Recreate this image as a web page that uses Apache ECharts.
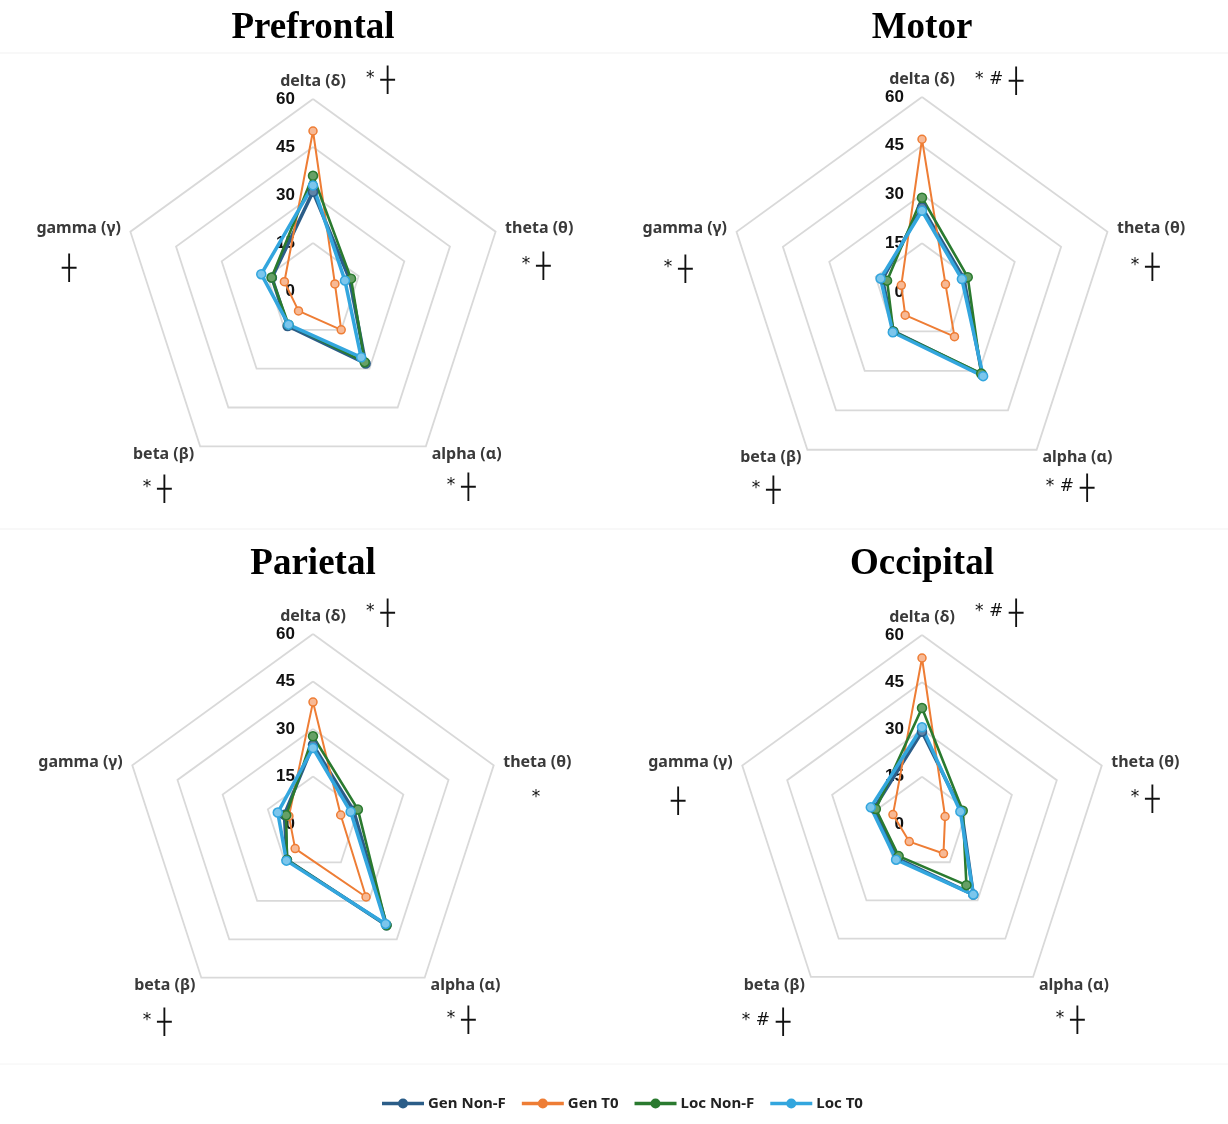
<!DOCTYPE html>
<html>
<head>
<meta charset="utf-8">
<title>EEG band power by region</title>
<script src="https://cdn.jsdelivr.net/npm/echarts@6/dist/echarts.min.js"></script>
<style>
  html, body { margin: 0; padding: 0; background: #ffffff; }
  #chart { width: 1228px; height: 1124px; }
</style>
</head>
<body>
<div id="chart"></div>
<script>
// Frequency bands, listed clockwise from the top axis
const bands = ['delta (δ)', 'theta (θ)', 'alpha (α)', 'beta (β)', 'gamma (γ)'];
const groups = ['Gen Non-F', 'Gen T0', 'Loc Non-F', 'Loc T0'];
const regions = ['Prefrontal', 'Motor', 'Parietal', 'Occipital'];
const tickLabels = [0, 15, 30, 45, 60];

// Values per band: delta, theta, alpha, beta, gamma
const prefrontalGenNonF = [31.0, 12.0, 28.0, 13.5, 13.5];
const prefrontalGenT0   = [50.0,  7.2, 15.0,  7.7,  9.4];
const prefrontalLocNonF = [36.0, 12.5, 27.5, 13.0, 13.6];
const prefrontalLocT0   = [33.0, 10.5, 25.6, 13.0, 17.0];

const motorGenNonF = [26.0, 13.5, 31.5, 15.0, 12.8];
const motorGenT0   = [47.0,  7.6, 17.0,  8.8,  6.7];
const motorLocNonF = [29.0, 14.8, 31.0, 15.0, 11.3];
const motorLocT0   = [25.0, 12.9, 32.0, 15.3, 13.4];

const parietalGenNonF = [25.0, 13.5, 39.5, 14.0,  9.5];
const parietalGenT0   = [38.5,  9.2, 28.5,  9.6,  8.0];
const parietalLocNonF = [27.7, 14.9, 39.5, 14.0,  8.9];
const parietalLocT0   = [24.0, 12.5, 39.0, 14.3, 11.7];

const occipitalGenNonF = [29.3, 13.2, 27.7, 13.5, 16.0];
const occipitalGenT0   = [52.7,  7.7, 11.6,  6.9,  9.7];
const occipitalLocNonF = [36.8, 13.6, 24.0, 12.6, 15.4];
const occipitalLocT0   = [30.7, 12.8, 27.7, 14.0, 17.1];

// Significance marks per band: delta, theta, alpha, beta, gamma
const prefrontalMarks = ['* ┼', '* ┼', '* ┼', '* ┼', '┼'];
const motorMarks      = ['* # ┼', '* ┼', '* # ┼', '* ┼', '* ┼'];
const parietalMarks   = ['* ┼', '*', '* ┼', '* ┼', ''];
const occipitalMarks  = ['* # ┼', '* ┼', '* ┼', '* # ┼', '┼'];

const regionValues = [
  [prefrontalGenNonF, prefrontalGenT0, prefrontalLocNonF, prefrontalLocT0],
  [motorGenNonF, motorGenT0, motorLocNonF, motorLocT0],
  [parietalGenNonF, parietalGenT0, parietalLocNonF, parietalLocT0],
  [occipitalGenNonF, occipitalGenT0, occipitalLocNonF, occipitalLocT0]
];
const regionMarks = [prefrontalMarks, motorMarks, parietalMarks, occipitalMarks];

// Panel geometry
const panels = [
  { cx: 313, cy: 291, r: 192 },
  { cx: 922, cy: 292, r: 195 },
  { cx: 313, cy: 824, r: 190 },
  { cx: 922, cy: 824, r: 189 }
];

const lineColors = ['#2b5d88', '#ee7d35', '#2a7a2f', '#33a6de'];
const fillColors = ['#5f84a8', '#f7b995', '#66a066', '#7cc6ec'];
const lineWidths = [3.5, 2, 2.6, 3.5];
const symbolSizes = [9, 8, 9, 9];

// ECharts lays radar axes counter-clockwise; visit bands in that order
const drawOrder = [0, 4, 3, 2, 1];

const labelFont = 'Noto Sans';

const radars = panels.map(function (p) {
  return {
    center: [p.cx, p.cy],
    radius: p.r,
    startAngle: 90,
    splitNumber: tickLabels.length - 1,
    shape: 'polygon',
    nameGap: 10,
    axisName: { color: '#3a3a3a', fontSize: 16, fontWeight: 'bold', fontFamily: labelFont },
    axisLine: { show: false },
    axisTick: { show: false },
    axisLabel: { show: false },
    splitLine: { lineStyle: { color: '#d9d9d9', width: 1.8 } },
    splitArea: { show: false },
    indicator: drawOrder.map(function (b, k) {
      const ind = { name: bands[b], min: tickLabels[0], max: tickLabels[tickLabels.length - 1] };
      if (k === 0) {
        ind.axisLabel = {
          show: true, color: '#111', fontSize: 17, fontWeight: 'bold',
          fontFamily: 'Liberation Sans', margin: 18
        };
      }
      return ind;
    })
  };
});

const series = regionValues.map(function (vals, ri) {
  return {
    type: 'radar',
    radarIndex: ri,
    symbol: 'circle',
    z: 2,
    data: groups.map(function (g, gi) {
      return {
        name: g,
        value: drawOrder.map(function (b) { return vals[gi][b]; }),
        symbolSize: symbolSizes[gi],
        lineStyle: { color: lineColors[gi], width: lineWidths[gi] },
        itemStyle: { color: fillColors[gi], borderColor: lineColors[gi], borderWidth: 1.5 }
      };
    })
  };
});

// Offsets of each band's mark text from its panel centre
const markOffsets = [
  { dx: 53, dy: -209, align: 'left' },
  { dx: 223, dy: -23, align: 'center' },
  { dx: 148, dy: 198, align: 'center' },
  { dx: -156, dy: 200, align: 'center' },
  { dx: -244, dy: -21, align: 'center' }
];

function richMark(s) {
  const parts = s.split(' ');
  const hasCross = parts[parts.length - 1] === '┼';
  const pre = hasCross ? parts.slice(0, -1).join(' ') : parts.join(' ');
  let out = '';
  if (pre) out += '{s|' + pre + '}';
  if (pre && hasCross) out += '{g| }';
  if (hasCross) out += '{c|┼}';
  return out;
}

const graphics = [];
panels.forEach(function (p, ri) {
  regionMarks[ri].forEach(function (m, b) {
    if (!m) return;
    const o = markOffsets[b];
    graphics.push({
      type: 'text',
      x: p.cx + o.dx,
      y: p.cy + o.dy,
      style: {
        text: richMark(m),
        align: o.align,
        textAlign: o.align,
        verticalAlign: 'middle',
        textVerticalAlign: 'middle',
        rich: {
          s: { fontSize: 17, fontFamily: 'DejaVu Sans', fill: '#111', color: '#111', verticalAlign: 'middle', padding: [0, 0, 6, 0] },
          g: { fontSize: 18, fontFamily: 'DejaVu Sans', fill: '#111', color: '#111' },
          c: { fontSize: 24, fontFamily: 'DejaVu Sans', fill: '#111', color: '#111' }
        }
      }
    });
  });
});

// faint panel separators
graphics.push(
  { type: 'line', shape: { x1: 0, y1: 53, x2: 1228, y2: 53 }, style: { stroke: '#f1f1f1', lineWidth: 1 } },
  { type: 'line', shape: { x1: 0, y1: 529, x2: 1228, y2: 529 }, style: { stroke: '#f1f1f1', lineWidth: 1 } },
  { type: 'line', shape: { x1: 0, y1: 1064, x2: 1228, y2: 1064 }, style: { stroke: '#f4f4f4', lineWidth: 1 } }
);

const titles = regions.map(function (name, ri) {
  return {
    text: name,
    left: panels[ri].cx,
    top: ri < 2 ? 10 : 546,
    textAlign: 'center',
    padding: 0,
    textStyle: { fontFamily: 'Liberation Serif', fontWeight: 'bold', fontSize: 37, color: '#000' }
  };
});

const legendIcon = 'path://M0,4.2L40,4.2L40,5.8L0,5.8Z M24,5A4,4 0 1 1 16,5A4,4 0 1 1 24,5Z';

const chart = echarts.init(document.getElementById('chart'), null, { renderer: 'canvas' });
chart.setOption({
  animation: false,
  backgroundColor: '#ffffff',
  title: titles,
  radar: radars,
  series: series,
  graphic: graphics,
  legend: {
    left: 377,
    top: 1091,
    itemWidth: 40,
    itemHeight: 12,
    itemGap: 16,
    icon: legendIcon,
    data: groups.map(function (g, gi) {
      return { name: g, itemStyle: { color: lineColors[gi] } };
    }),
    textStyle: { fontFamily: labelFont, fontWeight: 'bold', fontSize: 15, color: '#222' }
  }
});
</script>
</body>
</html>
